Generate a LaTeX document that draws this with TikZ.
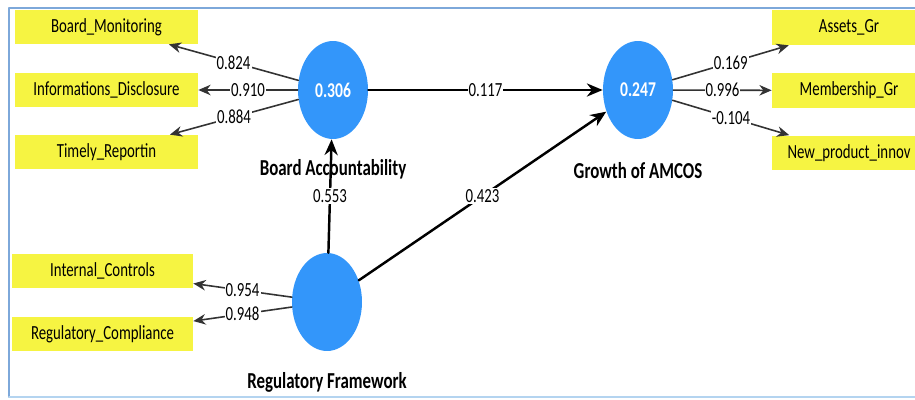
\documentclass[tikz,border=0pt]{standalone}
\usepackage{fontspec}
\setmainfont{Carlito}[FakeStretch=0.74]
\usetikzlibrary{shapes.geometric,arrows.meta}
\definecolor{indyellow}{RGB}{246,244,66}
\definecolor{latblue}{RGB}{51,150,250}
\definecolor{framedark}{RGB}{125,168,218}
\definecolor{framelight}{RGB}{180,212,240}
\tikzset{
  ind/.style={rectangle, fill=indyellow, minimum width=3.66cm, minimum height=0.68cm, inner sep=0pt, font=\fontsize{11.4}{13}\selectfont},
  lat/.style={ellipse, fill=latblue, minimum width=1.4cm, minimum height=1.96cm, inner sep=0pt, text=white, font=\fontsize{12}{14}\selectfont\bfseries},
  latname/.style={font=\fontsize{13}{15}\selectfont\bfseries},
  wt/.style={fill=white, inner sep=0.6pt, font=\fontsize{11.4}{13}\selectfont},
  load/.style={->, draw=black!80, line width=0.9pt},
  struct/.style={-{Stealth[length=9pt,width=7.5pt]}, line width=1.4pt}
}
\begin{document}
\begin{tikzpicture}[x=0.02cm, y=-0.02cm, line join=round, line cap=round, >={Stealth[length=7pt,width=6pt]}]
    \useasboundingbox (0,0) rectangle (915,399);
    \draw[framedark, line width=1pt] (915,8) -- (9,8) -- (9,397);
    \draw[framelight, line width=1pt] (9,397) -- (915,397);
    % latent variables
    \node[lat] (ba) at (333,90) {0.306};
    \node[lat] (gr) at (638,90) {0.247};
    \node[lat] (rf) at (327,302) {};
    \node[latname] (baname) at (333,169) {Board Accountability};
    \node[latname] (grname) at (638,171) {Growth of AMCOS};
    \node[latname] (rfname) at (327,382) {Regulatory Framework};
    % indicators
    \node[ind] (bm) at (106.5,27) {Board\_Monitoring};
    \node[ind] (id) at (106.5,90) {Informations\_Disclosure};
    \node[ind] (tr) at (106.5,152) {Timely\_Reportin};
    \node[ind, minimum width=3.62cm] (ic) at (102.5,271) {Internal\_Controls};
    \node[ind, minimum width=3.62cm] (rc) at (102.5,334) {Regulatory\_Compliance};
    \node[ind, minimum width=3.08cm, minimum height=0.7cm] (ag) at (849,27.5) {Assets\_Gr};
    \node[ind, minimum width=3.08cm, minimum height=0.7cm] (mg) at (849,90.5) {Membership\_Gr};
    \node[ind, minimum width=3.08cm, minimum height=0.7cm] (np) at (849,153) {New\_product\_innov};
    % outer loadings
    \draw[load] (ba) -- node[wt]{0.824} (bm);
    \draw[load] (ba) -- node[wt]{0.910} (id);
    \draw[load] (ba) -- node[wt]{0.884} (tr);
    \draw[load] (rf) -- node[wt]{0.954} (ic);
    \draw[load] (rf) -- node[wt]{0.948} (rc);
    \draw[load] (gr) -- node[wt]{0.169} (ag);
    \draw[load] (gr) -- node[wt]{0.996} (mg);
    \draw[load] (gr) -- node[wt]{-0.104} (np);
    % path coefficients
    \draw[struct] (ba) -- node[wt]{0.117} (gr);
    \draw[struct] (rf) -- node[wt]{0.553} (ba);
    \draw[struct] (rf) -- node[wt]{0.423} (gr);
\end{tikzpicture}
\end{document}
